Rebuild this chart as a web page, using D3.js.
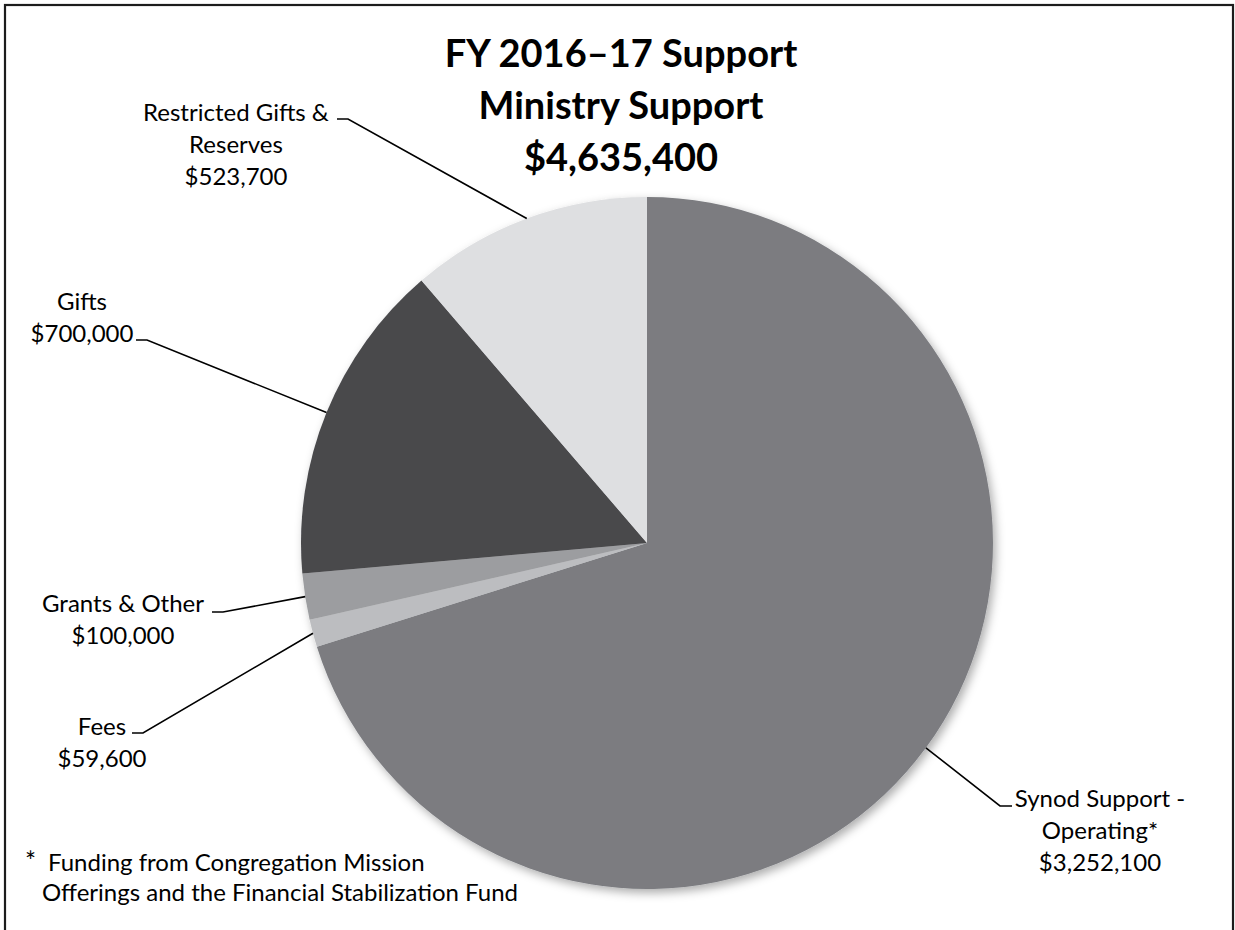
<!DOCTYPE html>
<html>
<head>
<meta charset="utf-8">
<script src="https://cdn.jsdelivr.net/npm/d3@7"></script>
<style>
  html, body { margin: 0; padding: 0; background: #fff; }
  svg { display: block; }
  text { font-family: "Lato", "Open Sans", sans-serif; fill: #000; }
</style>
</head>
<body>
<svg id="chart" width="1235" height="930"></svg>
<script>
// ---- data ----
const categories = ["Synod Support - Operating*", "Fees", "Grants & Other", "Gifts", "Restricted Gifts & Reserves"];
const values = [3252100, 59600, 100000, 700000, 523700];
const labelLines = [["Synod Support -", "Operating*"], ["Fees"], ["Grants & Other"], ["Gifts"], ["Restricted Gifts &", "Reserves"]];
const titleLines = ["FY 2016\u201317 Support", "Ministry Support"];
const footnoteLines = ["Funding from Congregation Mission", "Offerings and the Financial Stabilization Fund"];

// ---- layout / style ----
const colors = ["#7b7c80", "#bcbdc0", "#9c9da0", "#48484b", "#dedfe1"];
const cx = 647, cy = 543, R = 346;
const lineGap = 32;
const labelLayout = {
  "Synod Support - Operating*":  {tx: 1100, ty: 798, t1: 1000, t2: 1012, tyk: 806, join: "t1"},
  "Fees":                        {tx: 102,  ty: 726, t1: 132,  t2: 143,  tyk: 733, join: "t2"},
  "Grants & Other":              {tx: 123,  ty: 603, t1: 212,  t2: 223,  tyk: 612, join: "t2"},
  "Gifts":                       {tx: 82,   ty: 301, t1: 136,  t2: 147,  tyk: 340, join: "t2"},
  "Restricted Gifts & Reserves": {tx: 236,  ty: 112, t1: 337,  t2: 348,  tyk: 119, join: "t2"}
};

const svg = d3.select("#chart");
const fmt = d3.format("$,");

// frame
svg.append("rect")
  .attr("x", 5).attr("y", 5).attr("width", 1228).attr("height", 940)
  .attr("fill", "none").attr("stroke", "#1c1c1c").attr("stroke-width", 2.2);

// shadow filter
const defs = svg.append("defs");
const f = defs.append("filter").attr("id", "shadow")
  .attr("x", "-10%").attr("y", "-10%").attr("width", "120%").attr("height", "120%");
f.append("feDropShadow").attr("dx", 3).attr("dy", 4).attr("stdDeviation", 5)
  .attr("flood-color", "#000").attr("flood-opacity", 0.32);

const data = categories.map((c, i) => ({name: c, value: values[i], lines: labelLines[i], color: colors[i]}));
const pie = d3.pie().sort(null).value(d => d.value).startAngle(0).endAngle(2 * Math.PI);
const arcs = pie(data);
const arc = d3.arc().innerRadius(0).outerRadius(R);
const edgeArc = d3.arc().innerRadius(R).outerRadius(R);

const g = svg.append("g").attr("transform", `translate(${cx},${cy})`);
g.append("g").attr("filter", "url(#shadow)")
  .selectAll("path").data(arcs).join("path")
  .attr("d", arc)
  .attr("fill", d => d.data.color);

// leaders and labels
arcs.forEach(a => {
  const L = labelLayout[a.data.name];
  const [ex, ey] = edgeArc.centroid(a);
  const jx = L.join === "t1" ? L.t1 : L.t2;
  const ox = L.join === "t1" ? L.t2 : L.t1;
  svg.append("path")
    .attr("d", `M${cx + ex},${cy + ey}L${jx},${L.tyk}L${ox},${L.tyk}`)
    .attr("fill", "none").attr("stroke", "#000").attr("stroke-width", 1.6);
  const lines = a.data.lines.concat([fmt(a.data.value)]);
  const t = svg.append("text").attr("text-anchor", "middle").style("font-size", "24px");
  lines.forEach((ln, i) => {
    t.append("tspan").attr("x", L.tx).attr("y", L.ty + i * lineGap).attr("dy", "0.36em").text(ln);
  });
});

// title
const titleAll = titleLines.concat([fmt(d3.sum(values))]);
const tt = svg.append("text").attr("text-anchor", "middle")
  .style("font-size", "38px").style("font-weight", "bold");
titleAll.forEach((ln, i) => {
  tt.append("tspan").attr("x", 621).attr("y", 53 + i * 52).attr("dy", "0.36em").text(ln);
});

// footnote
svg.append("text").attr("x", 25).attr("y", 862).attr("dy", "0.36em")
  .style("font-size", "26px").text("*");
svg.append("text").attr("x", 48).attr("y", 862).attr("dy", "0.36em")
  .style("font-size", "24px").text(footnoteLines[0]);
svg.append("text").attr("x", 42).attr("y", 892).attr("dy", "0.36em")
  .style("font-size", "24px").text(footnoteLines[1]);
</script>
</body>
</html>
